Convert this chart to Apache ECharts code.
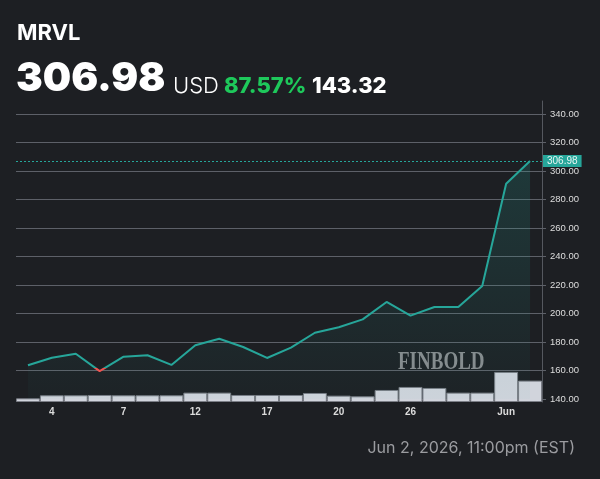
<!DOCTYPE html>
<html>
<head>
<meta charset="utf-8">
<script src="https://cdn.jsdelivr.net/npm/echarts@6.0.0/dist/echarts.min.js"></script>
<style>
  html, body { margin: 0; padding: 0; background: #1d1f23; }
  #main { width: 600px; height: 479px; }
</style>
</head>
<body>
<div id="main"></div>
<script>
// data
var dates = ['1','4','5','6','7','8','11','12','14','15','17','18','19','20','21','22','26','27','28','29','Jun','2'];
var shownTicks = ['4','7','12','17','20','26','Jun'];
var price = [163.66, 169.0, 171.8, 159.6, 169.7, 170.7, 163.9, 177.7, 182.3, 176.5, 168.8, 176.0,
             186.5, 190.3, 195.9, 208.1, 198.5, 204.6, 204.6, 219.3, 291.1, 306.98];
var volume = [11, 20, 20, 21, 20, 20, 20, 28, 28, 21, 21, 21, 27, 19, 17, 36, 45, 42, 28, 28, 90, 64];
var priceTicks = [140, 160, 180, 200, 220, 240, 260, 280, 300, 320, 340];

var ticker = 'MRVL';
var lastPrice = 306.98;
var startPrice = price[0];
var change = 143.32;
var changePct = '87.57%';
var stamp = 'Jun 2, 2026, 11:00pm (EST)';

var teal = '#26a69a';
var red = '#ef5350';

// line is red where it dips under the opening price
function baselineGradient(){
    var hi = Math.max.apply(null, price);
    var lo = Math.min.apply(null, price);
    var cut = (hi - startPrice) / (hi - lo);
    return new echarts.graphic.LinearGradient(0, 0, 0, 1, [
        { offset: 0, color: teal },
        { offset: cut, color: teal },
        { offset: cut, color: red },
        { offset: 1, color: red }
    ]);
}

var myChart = echarts.init(document.getElementById('main'));

var option = {
    backgroundColor: '#1d1f23',
    animation: false,
    grid: [
        { left: 16, right: 58, top: 114, bottom: 80 },   // price
        { left: 16, right: 58, top: 101, bottom: 77 }    // volume
    ],
    xAxis: [
        {
            type: 'category', gridIndex: 0, data: dates, boundaryGap: true,
            axisLine: { show: false }, axisTick: { show: false },
            axisLabel: {
                interval: function(index, value){ return shownTicks.indexOf(value) >= 0; },
                color: '#dcdcdc', fontSize: 10, fontWeight: 'bold', margin: 8,
                fontFamily: 'Liberation Sans'
            }
        },
        {
            type: 'category', gridIndex: 1, data: dates, boundaryGap: true, show: false
        }
    ],
    yAxis: [
        {
            type: 'value', gridIndex: 0, position: 'right',
            min: priceTicks[0], max: priceTicks[priceTicks.length - 1], interval: 20,
            axisLine: { show: false },
            axisTick: { show: true, length: 4, lineStyle: { color: '#5d6068' } },
            splitLine: { lineStyle: { color: '#5d6068', width: 1 } },
            axisLabel: {
                color: '#dedede', fontSize: 9.5, margin: 8, fontFamily: 'Liberation Sans',
                formatter: function(v){ return v.toFixed(2); }
            }
        },
        {
            type: 'value', gridIndex: 1, position: 'right', min: 0, max: 900,
            axisLine: { show: true, lineStyle: { color: '#55585f' } },
            axisTick: { show: false }, axisLabel: { show: false }, splitLine: { show: false }
        }
    ],
    graphic: [
        { type: 'text', left: 17, top: 22, style: { text: ticker, fill: '#ffffff', font: 'bold 22px Inter' } },
        { type: 'text', left: 16, top: 59, style: { text: lastPrice.toFixed(2), fill: '#ffffff', font: '900 40px Inter' } },
        { type: 'text', left: 173, top: 75, style: { text: 'USD', fill: '#ffffff', font: '300 22px Inter' } },
        { type: 'text', left: 224, top: 75, style: { text: changePct, fill: '#1ec85b', font: '800 22px Inter' } },
        { type: 'text', left: 312, top: 75, style: { text: change.toFixed(2), fill: '#ffffff', font: '800 22px Inter' } },
        { type: 'text', right: 25, top: 440, style: { text: stamp, fill: '#9b9ca0', font: '16px Inter' } },
        { type: 'text', left: 398, top: 350, scaleX: 0.76, z: 0,
          style: { text: 'FINBOLD', fill: '#8a8b8e', font: 'bold 25px "Liberation Serif"' } }
    ],
    series: [
        {
            name: 'Volume', type: 'bar', xAxisIndex: 1, yAxisIndex: 1, data: volume,
            barCategoryGap: '0%', z: 1,
            itemStyle: { color: '#d1d4dc', borderColor: '#7b7e86', borderWidth: 1 }
        },
        {
            name: ticker, type: 'line', xAxisIndex: 0, yAxisIndex: 0, data: price,
            symbol: 'none', z: 3,
            lineStyle: { width: 2, color: baselineGradient() },
            itemStyle: { color: teal },
            areaStyle: {
                color: new echarts.graphic.LinearGradient(0, 0, 0, 1, [
                    { offset: 0, color: 'rgba(38,166,154,0.28)' },
                    { offset: 1, color: 'rgba(38,166,154,0.04)' }
                ])
            },
            markLine: {
                silent: true, symbol: 'none',
                lineStyle: { color: teal, type: [2, 2], width: 1 },
                label: {
                    position: 'end', distance: 1, formatter: lastPrice.toFixed(2),
                    color: '#e8f5f3', backgroundColor: teal, padding: [1, 4, 1, 4],
                    fontSize: 10, fontFamily: 'Liberation Sans'
                },
                data: [{ yAxis: lastPrice }]
            }
        }
    ]
};

myChart.setOption(option);
</script>
</body>
</html>
